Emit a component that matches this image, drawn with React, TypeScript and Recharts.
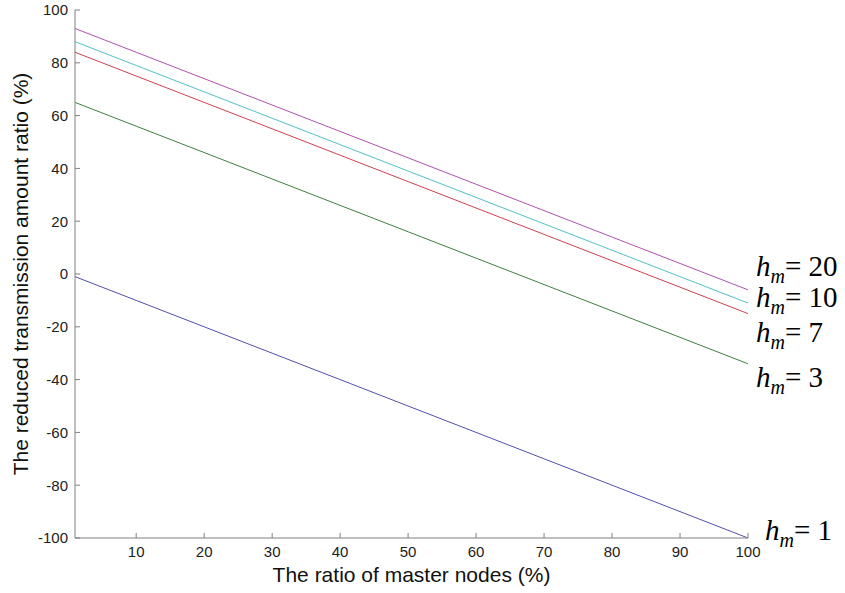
import { Label, Line, LineChart, XAxis, YAxis } from 'recharts'

// Ratio of master nodes (%), sampled every 10 points along the straight lines
const ratio = [1, 10, 20, 30, 40, 50, 60, 70, 80, 90, 100]

// Reduced transmission amount ratio (%) per h_m
const hm20 = [93, 84, 74, 64, 54, 44, 34, 24, 14, 4, -6]
const hm10 = [88, 79, 69, 59, 49, 39, 29, 19, 9, -1, -11]
const hm7 = [84, 75, 65, 55, 45, 35, 25, 15, 5, -5, -15]
const hm3 = [65, 56, 46, 36, 26, 16, 6, -4, -14, -24, -34]
const hm1 = [-1, -10, -20, -30, -40, -50, -60, -70, -80, -90, -100]

const xTicks = [10, 20, 30, 40, 50, 60, 70, 80, 90, 100]
const yTicks = [-100, -80, -60, -40, -20, 0, 20, 40, 60, 80, 100]

const series = [
  { key: 'hm20', label: '20', color: '#b050b0', data: hm20 },
  { key: 'hm10', label: '10', color: '#50c0c8', data: hm10 },
  { key: 'hm7', label: '7', color: '#d04050', data: hm7 },
  { key: 'hm3', label: '3', color: '#408040', data: hm3 },
  { key: 'hm1', label: '1', color: '#5050b0', data: hm1 },
]

// label baselines on the right, matching the original figure annotations
const labelY: Record<string, number> = { hm20: 276, hm10: 307, hm7: 342, hm3: 387, hm1: 540 }
const labelX: Record<string, number> = { hm20: 756, hm10: 756, hm7: 756, hm3: 756, hm1: 765 }

const data = ratio.map((r, i) => {
  const row: Record<string, number> = { ratio: r }
  series.forEach((s) => (row[s.key] = s.data[i]))
  return row
})

const AXIS = '#808080'
const SANS = '"Liberation Sans", Arial, sans-serif'
const SERIF = "'Liberation Serif', 'Times New Roman', 'DejaVu Serif', serif"

export default function App() {
  return (
    <div style={{ position: 'absolute', left: 0, top: 0, width: 845, height: 593, background: '#fff' }}>
      <LineChart width={845} height={593} data={data} margin={{ top: 10, right: 97, bottom: 8, left: 0 }}>
        <XAxis
          dataKey="ratio"
          type="number"
          domain={[1, 100]}
          ticks={xTicks}
          height={47}
          stroke={AXIS}
          tickSize={-5}
          tickMargin={13}
          tick={{ fill: '#222', fontSize: 15, fontFamily: SANS }}
        >
          <Label
            value="The ratio of master nodes (%)"
            position="insideBottom"
            offset={3}
            style={{ fill: '#111', fontSize: 21, fontFamily: SANS }}
          />
        </XAxis>
        <YAxis
          type="number"
          domain={[-100, 100]}
          ticks={yTicks}
          width={75}
          stroke={AXIS}
          tickSize={-5}
          tickMargin={12}
          tick={{ fill: '#222', fontSize: 15, fontFamily: SANS }}
        >
          <Label
            value="The reduced transmission amount ratio (%)"
            angle={-90}
            position="insideLeft"
            offset={21}
            style={{ fill: '#111', fontSize: 21, fontFamily: SANS, textAnchor: 'middle' }}
          />
        </YAxis>
        {series.map((s) => (
          <Line
            key={s.key}
            dataKey={s.key}
            stroke={s.color}
            strokeWidth={1}
            dot={false}
            type="linear"
            isAnimationActive={false}
          />
        ))}
      </LineChart>
      <svg width={845} height={593} style={{ position: 'absolute', left: 0, top: 0, pointerEvents: 'none' }}>
        {series.map((s) => (
          <text key={s.key} x={labelX[s.key]} y={labelY[s.key]} style={{ fontFamily: SERIF, fontSize: 29, fill: '#000' }}>
            <tspan style={{ fontStyle: 'italic' }}>h</tspan>
            <tspan style={{ fontStyle: 'italic', fontSize: 20 }} dy={7}>m</tspan>
            <tspan dy={-7}>= {s.label}</tspan>
          </text>
        ))}
      </svg>
    </div>
  )
}
